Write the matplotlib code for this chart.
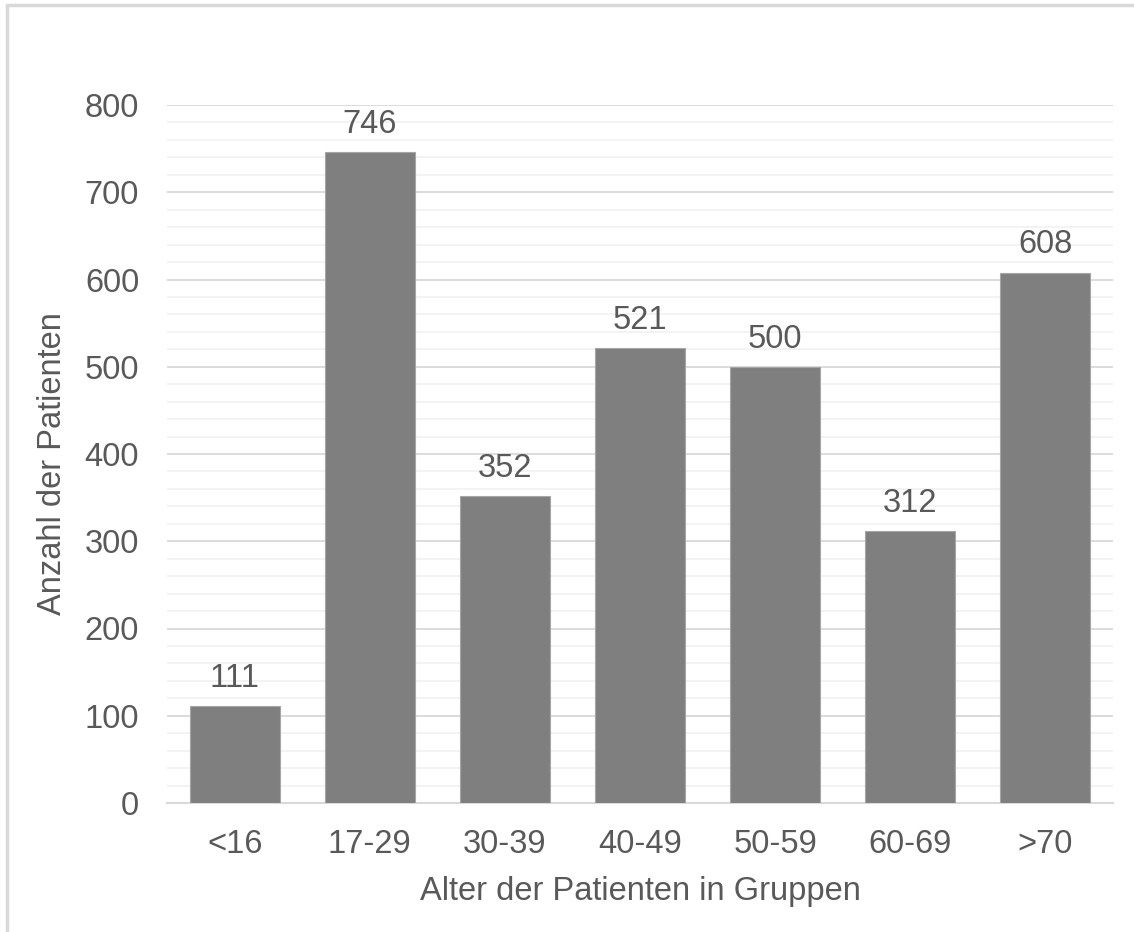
import matplotlib
matplotlib.use('Agg')
import matplotlib.pyplot as plt
from matplotlib.ticker import MultipleLocator
from matplotlib.patches import Rectangle
import numpy as np

matplotlib.rcParams['font.family'] = ['Liberation Sans', 'DejaVu Sans']

# Altersgruppen und Patientenzahlen
gruppen = ['<16', '17-29', '30-39', '40-49', '50-59', '60-69', '>70']
anzahl = [111, 746, 352, 521, 500, 312, 608]

text_col = '#595959'
bar_col = '#7f7f7f'
fs = 23.5

fig = plt.figure(figsize=(11.34, 9.32), dpi=100)
ax = fig.add_axes([167/1134, 1 - 803/932, (1113-167)/1134, (803-105)/932])

# Rahmen um das Diagramm
fig.patches.append(Rectangle((7/1134, -0.1), 1.2, 0.1 + 1 - 5/932, transform=fig.transFigure,
                             fill=False, edgecolor='#d9d9d9', linewidth=2.5))

x = np.arange(len(gruppen))
bars = ax.bar(x, anzahl, width=0.667, color=bar_col, edgecolor='#a6a6a6', linewidth=0.8, zorder=3)

for xi, v in zip(x, anzahl):
    ax.text(xi, v + 14, str(v), ha='center', va='bottom', fontsize=fs, color=text_col)

ax.set_xlim(-0.5, len(gruppen) - 0.5)
ax.set_ylim(0, 800)
ax.yaxis.set_major_locator(MultipleLocator(100))
ax.yaxis.set_minor_locator(MultipleLocator(20))
ax.grid(axis='y', which='major', color='#d9d9d9', linewidth=1.3, zorder=0)
ax.grid(axis='y', which='minor', color='#f2f2f2', linewidth=1.3, zorder=0)
ax.set_axisbelow(True)

for s in ['top', 'right', 'left']:
    ax.spines[s].set_visible(False)
ax.spines['bottom'].set_color('#d9d9d9')
ax.spines['bottom'].set_linewidth(1.5)

ax.set_xticks(x)
ax.set_xticklabels(gruppen)
ax.tick_params(axis='both', which='both', length=0, labelsize=fs, labelcolor=text_col)
ax.tick_params(axis='x', pad=19)
ax.tick_params(axis='y', pad=20)

ax.set_xlabel('Alter der Patienten in Gruppen', fontsize=fs, color=text_col, labelpad=11)
ax.set_ylabel('Anzahl der Patienten', fontsize=fs, color=text_col, labelpad=12)
ax.yaxis.label.set_y(0.5 - 10/698)

plt.savefig('out.png', dpi=100)
plt.close()
